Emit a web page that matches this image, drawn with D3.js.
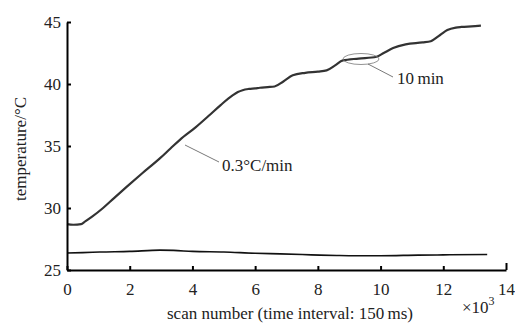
<!DOCTYPE html>
<html><head><meta charset="utf-8">
<script src="https://cdn.jsdelivr.net/npm/d3@7"></script>
<style>body{margin:0;background:#fff}svg{display:block}text{font-family:"Liberation Serif","Times New Roman",serif}</style>
</head><body><svg id="c" width="515" height="327"></svg>
<script>
// data (x in thousands of scans, y in °C)
const heatX = [0,0.2,0.45,0.57,0.8,1.15,1.5,1.9,2.4,2.96,3.3,3.6,4.1,4.55,4.9,5.29,5.45,5.6,5.8,6.0,6.15,6.4,6.62,6.9,7.2,7.6,8.0,8.28,8.55,8.8,9.3,9.87,10.1,10.4,10.8,11.34,11.6,11.9,12.13,12.4,12.58,12.9,13.2];
const heatY = [28.7,28.65,28.7,28.9,29.3,30.0,30.8,31.7,32.8,34.0,34.8,35.5,36.5,37.5,38.3,39.1,39.35,39.5,39.6,39.65,39.7,39.75,39.8,40.2,40.7,40.9,41.0,41.1,41.5,41.9,42.05,42.2,42.5,42.9,43.2,43.35,43.45,43.95,44.35,44.55,44.6,44.65,44.7];
const refX = [0,0.5,1.05,2.0,2.96,3.4,4.0,5.0,6.0,6.8,7.5,8.06,8.6,9.2,10.0,11.2,12.0,13.4];
const refY = [26.37,26.4,26.45,26.5,26.6,26.58,26.5,26.45,26.35,26.3,26.25,26.2,26.17,26.15,26.15,26.2,26.22,26.25];
const xTicks = [0,2,4,6,8,10,12,14];
const yTicks = [25,30,35,40,45];
const xTitle = "scan number (time interval: 150\u2009ms)";
const yTitle = "temperature/\u00B0C";
const note1 = "0.3\u00B0C/min";
const note2 = "10\u2009min";

const FS = 17;
const svg = d3.select("#c");
const x = d3.scaleLinear().domain([0,14]).range([67,506]);
const y = d3.scaleLinear().domain([25,45]).range([270,22]);

const line = d3.line().x(d=>x(d[0])).y(d=>y(d[1])).curve(d3.curveMonotoneX);
svg.append("path").datum(refX.map((v,i)=>[v,refY[i]])).attr("d",line)
  .attr("fill","none").attr("stroke","#111").attr("stroke-width",1.6);
svg.append("path").datum(heatX.map((v,i)=>[v,heatY[i]])).attr("d",line)
  .attr("fill","none").attr("stroke","#333").attr("stroke-width",2.2);

// axes
const ax = svg.append("g").attr("transform","translate(0,270)")
  .call(d3.axisBottom(x).tickValues(xTicks).tickSizeInner(-4).tickSizeOuter(0).tickPadding(13).tickFormat(d3.format("d")));
const ay = svg.append("g").attr("transform","translate(67,0)")
  .call(d3.axisLeft(y).tickValues(yTicks).tickSizeInner(-4).tickSizeOuter(0).tickPadding(6).tickFormat(d3.format("d")));
[ax,ay].forEach(g=>{
  g.select(".domain").attr("stroke","#000").attr("stroke-width",2);
  g.selectAll(".tick line").attr("stroke","#000").attr("stroke-width",2);
  g.selectAll("text").attr("font-size",FS).attr("fill","#222").style("font-family","Liberation Serif");
});
ax.selectAll(".tick").filter(d=>d===14).select("line").attr("y2",-7);

svg.append("text").attr("x",290).attr("y",319).attr("text-anchor","middle").attr("font-size",FS).attr("fill","#222").text(xTitle);
const t3 = svg.append("text").attr("x",462).attr("y",313).attr("font-size",FS).attr("fill","#222");
t3.append("tspan").text("\u00D710");
t3.append("tspan").attr("dy",-8).attr("font-size",12).text("3");
svg.append("text").attr("transform","translate(26,149) rotate(-90)").attr("text-anchor","middle").attr("font-size",FS).attr("fill","#222").text(yTitle);

// annotations
svg.append("line").attr("x1",185).attr("y1",145).attr("x2",219).attr("y2",162).attr("stroke","#555").attr("stroke-width",0.8);
svg.append("text").attr("x",222).attr("y",171).attr("font-size",FS).attr("fill","#222").text(note1);
svg.append("ellipse").attr("cx",361).attr("cy",59).attr("rx",18).attr("ry",5.5).attr("fill","none").attr("stroke","#777").attr("stroke-width",0.8);
svg.append("line").attr("x1",368).attr("y1",64).attr("x2",393).attr("y2",77).attr("stroke","#555").attr("stroke-width",0.8);
svg.append("text").attr("x",397).attr("y",84).attr("font-size",FS).attr("fill","#222").text(note2);
</script></body></html>
